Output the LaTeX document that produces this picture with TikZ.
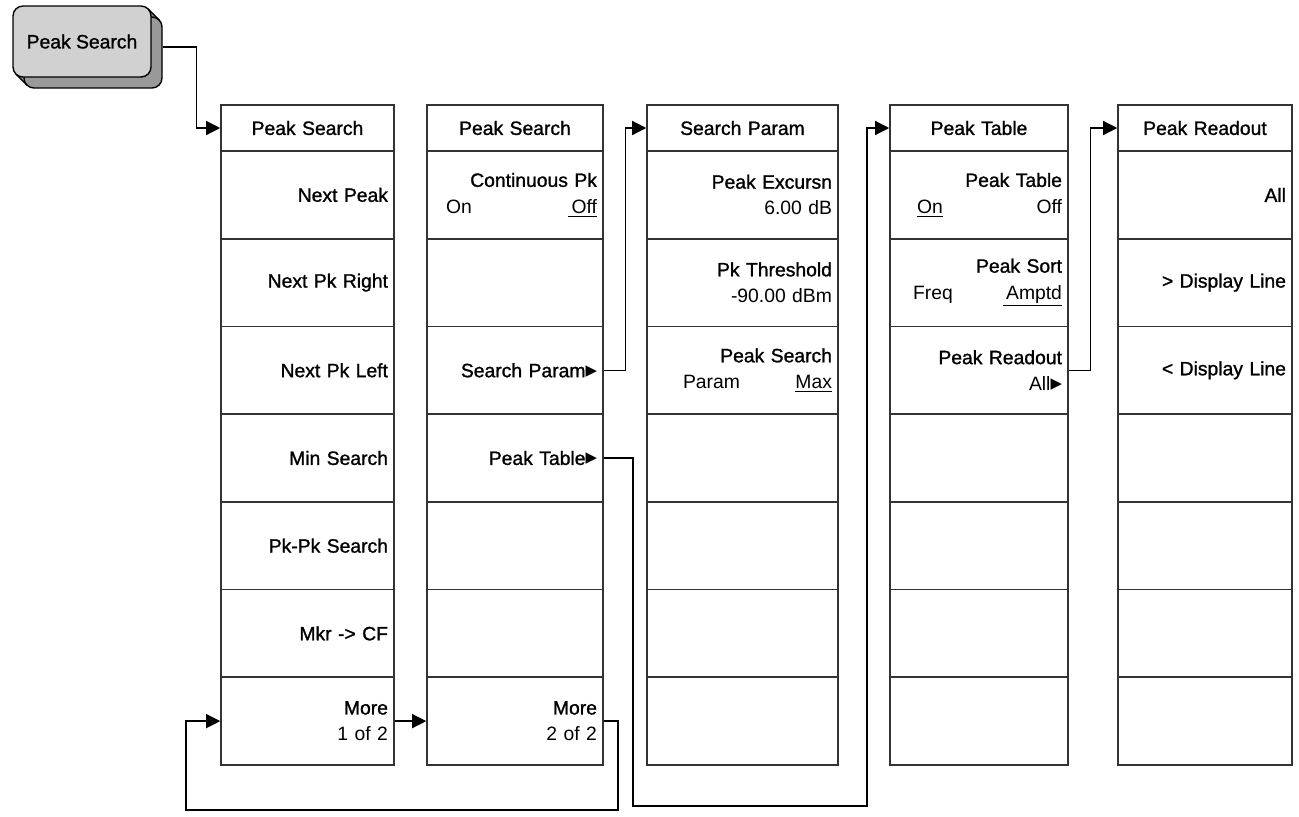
\documentclass[tikz,border=0pt]{standalone}
\usepackage{fontspec}
\setmainfont{Liberation Sans}
\newfontfamily\labfont{Liberation Sans}[FakeBold=1.2]
\newfontfamily\symfont{DejaVu Sans}
\usetikzlibrary{arrows.meta,calc}

\newcommand{\keylab}{\labfont\fontsize{11}{15}\selectfont}
\newcommand{\subval}{\rmfamily\fontsize{11}{15}\selectfont}
\newcommand{\submenu}{{\symfont\fontsize{13}{13}\selectfont ▸}}
% left value / right value under a softkey label
\newcommand{\twoval}[3]{\hbox to\hsize{\subval\hspace{#1}#2\hfil#3}}

\tikzset{
  menu/.style={draw=black!80, line width=0.9pt, font=\keylab, inner xsep=0.12cm, inner ysep=1pt, align=right},
  head/.style={menu, minimum height=0.92cm, align=center},
  soft/.style={menu, minimum height=1.7543cm},
  colA/.style={text width=3.22cm},
  colB/.style={text width=3.28cm},
  colC/.style={text width=3.58cm},
  colD/.style={text width=3.32cm},
  colE/.style={text width=3.24cm},
  hardkey/.style={draw=black, fill=black!18, line width=0.8pt, rounded corners=0.2cm,
    minimum width=2.76cm, minimum height=1.42cm, font=\keylab},
  link/.style={draw=black, line width=0.7pt, -{Triangle[length=8pt,width=8pt]}},
}

\begin{document}
\begin{tikzpicture}[x=0.02cm, y=-0.02cm]
  \useasboundingbox (0,0) rectangle (1299,816);

  % front panel key
  \fill[black!40] (148.1,8.9) -- (159.1,19.9) -- (26.9,85.1) -- (15.9,74.1) -- cycle;
  \filldraw[fill=black!40, draw=black, line width=0.8pt, rounded corners=0.2cm] (24,17) rectangle (162,88);
  \draw[line width=0.8pt] (148.1,8.9) -- (159.1,19.9);
  \draw[line width=0.8pt] (15.9,74.1) -- (26.9,85.1);
  \node[hardkey] (hk) at (82,41.5) {Peak Search};
  \coordinate (hkout) at ($(hk.east)+(11,5.5)$);

  % menu 1 of 2
  \node[head, colA] (c1h) at (307.5,128) {Peak Search};
  \foreach \txt [count=\i] in {Next Peak, Next Pk Right, Next Pk Left, Min Search, Pk-Pk Search, Mkr -> CF}
    \node[soft, colA] (c1r\i) at (307.5,{151+87.71*(\i-0.5)}) {\txt};
  \node[soft, colA] (c1r7) at (307.5,721.1) {More\\{\subval 1 of 2}};

  % menu 2 of 2
  \node[head, colB] (c2h) at (515,128) {Peak Search};
  \node[soft, colB] (c2r1) at (515,194.9) {Continuous Pk\\\twoval{0.26cm}{On}{\underline{\,Off}}};
  \node[soft, colB] (c2r2) at (515,282.6) {};
  \node[soft, colB] (c2r3) at (515,370.3) {Search Param\submenu};
  \node[soft, colB] (c2r4) at (515,458.0) {Peak Table\submenu};
  \node[soft, colB] (c2r5) at (515,545.7) {};
  \node[soft, colB] (c2r6) at (515,633.4) {};
  \node[soft, colB] (c2r7) at (515,721.1) {More\\{\subval 2 of 2}};

  % search parameters
  \node[head, colC] (c3h) at (742.5,128) {Search Param};
  \node[soft, colC] (c3r1) at (742.5,194.9) {Peak Excursn\\{\subval 6.00 dB}};
  \node[soft, colC] (c3r2) at (742.5,282.6) {Pk Threshold\\{\subval -90.00 dBm}};
  \node[soft, colC] (c3r3) at (742.5,370.3) {Peak Search\\\twoval{0.6cm}{Param}{\underline{Max}}};
  \foreach \i in {4,...,7}
    \node[soft, colC] (c3r\i) at (742.5,{151+87.71*(\i-0.5)}) {};

  % peak table
  \node[head, colD] (c4h) at (979,128) {Peak Table};
  \node[soft, colD] (c4r1) at (979,194.9) {Peak Table\\\twoval{0.42cm}{\underline{On}}{Off}};
  \node[soft, colD] (c4r2) at (979,282.6) {Peak Sort\\\twoval{0.34cm}{Freq}{\underline{\,Amptd}}};
  \node[soft, colD] (c4r3) at (979,370.3) {Peak Readout\\{\subval All}\submenu};
  \foreach \i in {4,...,7}
    \node[soft, colD] (c4r\i) at (979,{151+87.71*(\i-0.5)}) {};

  % peak readout
  \node[head, colE] (c5h) at (1205,128) {Peak Readout};
  \node[soft, colE] (c5r1) at (1205,194.9) {All};
  \node[soft, colE] (c5r2) at (1205,282.6) {> Display Line};
  \node[soft, colE] (c5r3) at (1205,370.3) {< Display Line};
  \foreach \i in {4,...,7}
    \node[soft, colE] (c5r\i) at (1205,{151+87.71*(\i-0.5)}) {};

  % connectors
  \coordinate (bendA) at (633,806);
  \coordinate (bendB) at (867,806);
  \coordinate (loopA) at (618,810);
  \coordinate (loopB) at (186,810);
  \draw[link] (hkout) -| ($(c1h.west)+(-24,0)$) -- (c1h.west);
  \draw[link] (c2r3.east) -- ++(22,0) |- (c3h.west);
  \draw[link] (c2r4.east) -| (bendA) -- (bendB) |- (c4h.west);
  \draw[link] (c4r3.east) -- ++(22,0) |- (c5h.west);
  \draw[link] (c1r7.east) -- (c2r7.west);
  \draw[link] (c2r7.east) -| (loopA) -- (loopB) |- (c1r7.west);
\end{tikzpicture}
\end{document}
